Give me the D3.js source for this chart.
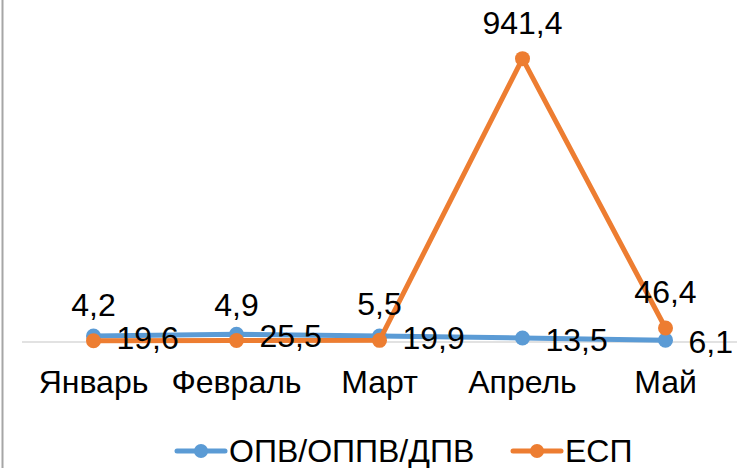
<!DOCTYPE html>
<html><head><meta charset="utf-8">
<script src="https://cdn.jsdelivr.net/npm/d3@7"></script>
<style>body{margin:0;background:#fff}svg{display:block}</style>
</head><body>
<script>
const categories = ["Январь","Февраль","Март","Апрель","Май"];
const seriesNames = ["ОПВ/ОППВ/ДПВ","ЕСП"];
const opvValues = [19.6, 25.5, 19.9, 13.5, 6.1];
const espValues = [4.2, 4.9, 5.5, 941.4, 46.4];
const labelsOpv = ["19,6","25,5","19,9","13,5","6,1"];
const labelsEsp = ["4,2","4,9","5,5","941,4","46,4"];
const colors = ["#5B9BD5","#ED7D31"];

const W = 748, H = 468;
const svg = d3.select("body").append("svg").attr("width", W).attr("height", H);
const font = "Arial, 'Liberation Sans', sans-serif";
const fs = 32;

svg.append("line").attr("x1",2.5).attr("x2",2.5).attr("y1",0).attr("y2",H)
  .attr("stroke","#a6a6a6").attr("stroke-width",2);

const x = d3.scaleBand().domain(categories).range([22, 737]);
const y = d3.scaleLinear().domain([0, 1000]).range([342, 41]);

svg.append("line").attr("x1",22).attr("x2",737).attr("y1",y(0)).attr("y2",y(0))
  .attr("stroke","#d9d9d9").attr("stroke-width",1.5);

const cx = c => x(c) + x.bandwidth()/2;

// category labels
svg.append("g").selectAll("text").data(categories).join("text")
  .attr("x", cx).attr("y", 393).attr("text-anchor","middle")
  .attr("font-family", font).attr("font-size", fs).attr("fill","#000").text(d=>d);

const series = [
  {vals: opvValues, labels: labelsOpv, color: colors[0], pos: "right"},
  {vals: espValues, labels: labelsEsp, color: colors[1], pos: "top"}
];
const line = d3.line().x((d,i)=>cx(categories[i])).y(d=>y(d));

series.forEach(s => {
  const g = svg.append("g");
  g.append("path").datum(s.vals).attr("d", line).attr("fill","none")
    .attr("stroke", s.color).attr("stroke-width",5).attr("stroke-linejoin","round").attr("stroke-linecap","round");
  g.selectAll("circle").data(s.vals).join("circle")
    .attr("cx",(d,i)=>cx(categories[i])).attr("cy", d=>y(d)).attr("r",7.5).attr("fill", s.color);
});
series.forEach(s => {
  svg.append("g").selectAll("text").data(s.vals).join("text")
    .attr("x",(d,i)=> s.pos==="right" ? cx(categories[i]) + 23 : cx(categories[i]))
    .attr("y", d => s.pos==="right" ? y(d) + 13 : y(d) - 25)
    .attr("text-anchor", s.pos==="right" ? "start" : "middle")
    .attr("font-family", font).attr("font-size", fs).attr("fill","#000")
    .text((d,i)=>s.labels[i]);
});

// legend
const legend = [{x:177, name: seriesNames[0], color: colors[0]},{x:513, name: seriesNames[1], color: colors[1]}];
legend.forEach(l => {
  const g = svg.append("g");
  g.append("line").attr("x1", l.x).attr("x2", l.x+48).attr("y1",451).attr("y2",451)
    .attr("stroke", l.color).attr("stroke-width",5).attr("stroke-linecap","round");
  g.append("circle").attr("cx", l.x+24).attr("cy",451).attr("r",7).attr("fill", l.color);
  g.append("text").attr("x", l.x+52).attr("y", 462).attr("font-family", font)
    .attr("font-size", fs).attr("fill","#000").text(l.name);
});
</script>
</body></html>
